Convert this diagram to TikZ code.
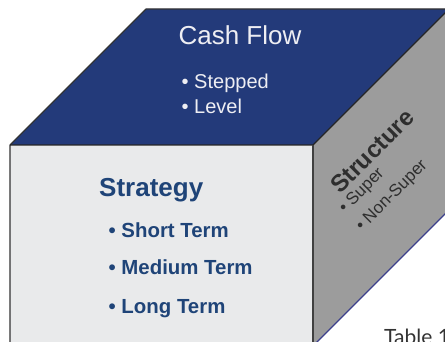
\documentclass[tikz,border=0pt]{standalone}
\usepackage{fontspec}
\setmainfont{Liberation Sans}
\newfontfamily\captionfont{Lato}
\definecolor{topblue}{HTML}{233A7A}
\definecolor{frontgray}{HTML}{E9EAEB}
\definecolor{sidegray}{HTML}{9C9C9C}
\definecolor{stratblue}{HTML}{1F4478}
\definecolor{edgeblue}{HTML}{3B3F8C}
\definecolor{toptext}{HTML}{EEEEF3}
\definecolor{sidetext}{HTML}{2E2E2E}
\begin{document}
\begin{tikzpicture}[x=1pt,y=-1pt,
  facet/.style={line width=1.2pt, line join=round},
  lbl/.style={inner sep=0pt, anchor=base west},
  toplbl/.style={lbl, text=toptext},
  frontlbl/.style={lbl, text=stratblue, font=\bfseries\fontsize{20.4}{24}\selectfont},
  sidelbl/.style={lbl, rotate=45, text=sidetext, font=\fontsize{17}{20}\selectfont},
]
\useasboundingbox (0,0) rectangle (445,342);
\clip (0,0) rectangle (445,342);
% cube corners: front face, then the back edge
\coordinate (ftl) at (10,145);
\coordinate (ftr) at (313,145);
\coordinate (fbr) at (313,346);
\coordinate (fbl) at (10,346);
\coordinate (btl) at (146,9);
\coordinate (btr) at (449,9);
\coordinate (bbr) at (449,210);
% faces
\fill[frontgray] (ftl) -- (ftr) -- (fbr) -- (fbl) -- cycle;
\fill[topblue] (ftl) -- (btl) -- (btr) -- (ftr) -- cycle;
\fill[sidegray] (ftr) -- (btr) -- (bbr) -- (fbr) -- cycle;
% edges
\draw[facet, black!80] (fbl) -- (ftl) -- (btl) -- (btr);
\draw[facet, black!85] (ftl) -- (ftr) -- (btr);
\draw[facet, black!75] (ftr) -- (fbr);
\draw[facet, edgeblue] (fbr) -- (bbr);
% top face
\node[toplbl, anchor=base, font=\fontsize{26}{30}\selectfont] (cash) at (240,45) {Cash Flow};
\node[toplbl, font=\fontsize{20}{24}\selectfont] (cash1) at (181.5,89) {• Stepped};
\node[toplbl, font=\fontsize{20}{24}\selectfont] (cash2) at (181.5,114) {• Level};
% front face
\node[lbl, text=stratblue, font=\bfseries\fontsize{26}{30}\selectfont] (strat) at (99,197) {Strategy};
\node[frontlbl] (strat1) at (108.5,237) {• Short Term};
\node[frontlbl] (strat2) at (108.5,275) {• Medium Term};
\node[frontlbl] (strat3) at (108.5,313) {• Long Term};
% side face
\node[sidelbl, font=\bfseries\fontsize{24}{28}\selectfont] (struct) at (340,195) {Structure};
\node[sidelbl] (struct1) at (345,214) {• Super};
\node[sidelbl] (struct2) at (362,232) {• Non-Super};
% caption
\node[lbl, text=black!80, font=\captionfont\fontsize{21}{25}\selectfont] (cap) at (384,344) {Table 1};
\end{tikzpicture}
\end{document}
